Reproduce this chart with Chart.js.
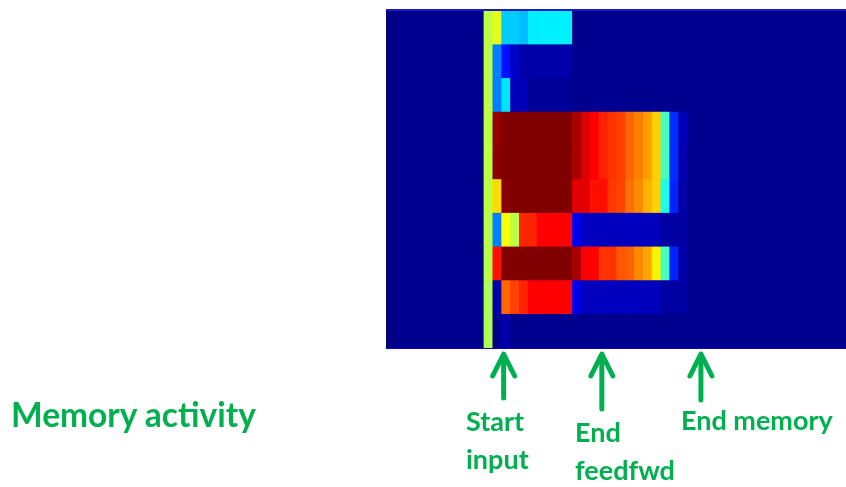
<!DOCTYPE html>
<html>
<head>
<meta charset="utf-8">
<script src="https://cdn.jsdelivr.net/npm/chart.js@4"></script>
<style>
  html,body{margin:0;padding:0;background:#fff;}
  #wrap{position:relative;width:846px;height:487px;overflow:hidden;}
  canvas{position:absolute;left:0;top:0;}
  .lbl{position:absolute;font-family:Lato,"Open Sans",sans-serif;font-weight:700;color:#00B050;white-space:nowrap;line-height:1;}
</style>
</head>
<body>
<div id="wrap">
  <canvas id="c" width="846" height="487"></canvas>
  <div class="lbl" style="left:11px;top:398px;font-size:33.5px;">Memory activity</div>
  <div class="lbl" style="left:466px;top:407px;font-size:27px;">Start</div>
  <div class="lbl" style="left:466px;top:445px;font-size:27px;">input</div>
  <div class="lbl" style="left:575px;top:418px;font-size:27px;">End</div>
  <div class="lbl" style="left:575px;top:456px;font-size:27px;">feedfwd</div>
  <div class="lbl" style="left:681px;top:406px;font-size:27px;">End memory</div>
</div>
<script>
// time steps (columns)
const timeSteps = [0,1,2,3,4,5,6,7,8,9,10,11,12,13,14,15,16,17,18,19,20,21,22,23,24,25,26,27,28,29,30,31,32,33,34,35,36,37,38,39,40,41,42,43,44,45,46,47,48,49,50,51];
// memory cells (rows, top to bottom)
const memoryCells = ['1','2','3','4','5','6','7','8','9','10'];
// activity per cell (0..1)
const cell1 = [0,.015,.015,.015,.015,.015,.015,.015,.015,.015,.015,.56,.6,.325,.325,.31,.36,.36,.36,.36,.36,.015,.015,.015,.015,.015,.015,.015,.015,.015,.015,.015,.015,.015,.015,.015,.015,.015,.015,.015,.015,.015,.015,.015,.015,.015,.015,.015,.015,.015,.015,.015];
const cell2 = [0,.015,.015,.015,.015,.015,.015,.015,.015,.015,.015,.56,.25,.14,.075,.04,.04,.04,.04,.04,.04,.015,.015,.015,.015,.015,.015,.015,.015,.015,.015,.015,.015,.015,.015,.015,.015,.015,.015,.015,.015,.015,.015,.015,.015,.015,.015,.015,.015,.015,.015,.015];
const cell3 = [0,.015,.015,.015,.015,.015,.015,.015,.015,.015,.015,.56,.25,.35,.055,.055,.025,.025,.025,.025,.025,.015,.015,.015,.015,.015,.015,.015,.015,.015,.015,.015,.015,.015,.015,.015,.015,.015,.015,.015,.015,.015,.015,.015,.015,.015,.015,.015,.015,.015,.015,.015];
const cell4 = [0,.015,.015,.015,.015,.015,.015,.015,.015,.015,.015,.56,.98,1,1,1,1,1,1,1,1,.958,.908,.875,.844,.825,.81,.775,.75,.72,.67,.445,.17,.058,.015,.015,.015,.015,.015,.015,.015,.015,.015,.015,.015,.015,.015,.015,.015,.015,.015,.015];
const cell5 = [0,.015,.015,.015,.015,.015,.015,.015,.015,.015,.015,.56,.99,1,1,1,1,1,1,1,1,.958,.908,.875,.844,.825,.81,.775,.75,.72,.67,.445,.17,.05,.015,.015,.015,.015,.015,.015,.015,.015,.015,.015,.015,.015,.015,.015,.015,.015,.015,.015];
const cell6 = [0,.015,.015,.015,.015,.015,.015,.015,.015,.015,.015,.56,.66,.99,1,1,1,1,1,1,1,.9,.9,.86,.86,.82,.81,.765,.74,.7,.67,.4,.16,.035,.015,.015,.015,.015,.015,.015,.015,.015,.015,.015,.015,.015,.015,.015,.015,.015,.015,.015];
const cell7 = [0,.015,.015,.015,.015,.015,.015,.015,.015,.015,.015,.555,.25,.62,.56,.84,.84,.875,.875,.875,.875,.108,.06,.06,.06,.06,.06,.06,.06,.06,.06,.035,.035,.035,.015,.015,.015,.015,.015,.015,.015,.015,.015,.015,.015,.015,.015,.015,.015,.015,.015,.015];
const cell8 = [0,.015,.015,.015,.015,.015,.015,.015,.015,.015,.015,.555,.86,1,1,1,1,1,1,1,1,.958,.875,.875,.825,.825,.79,.78,.74,.715,.64,.445,.16,.04,.015,.015,.015,.015,.015,.015,.015,.015,.015,.015,.015,.015,.015,.015,.015,.015,.015,.015];
const cell9 = [0,.015,.015,.015,.015,.015,.015,.015,.015,.015,.015,.545,.04,.775,.81,.84,.875,.875,.875,.875,.875,.105,.06,.06,.06,.06,.06,.06,.06,.06,.06,.035,.035,.035,.015,.015,.015,.015,.015,.015,.015,.015,.015,.015,.015,.015,.015,.015,.015,.015,.015,.015];
const cell10 = [0,.015,.015,.015,.015,.015,.015,.015,.015,.015,.015,.545,.015,.045,.015,.015,.015,.015,.015,.015,.015,.015,.015,.015,.015,.015,.015,.015,.015,.015,.015,.015,.015,.015,.015,.015,.015,.015,.015,.015,.015,.015,.015,.015,.015,.015,.015,.015,.015,.015,.015,.015];
// marker positions (time step where each arrow points)
const markerSteps = [13.3, 24.4, 35.6];
const markerLen = [44, 55, 46];

const activity = [cell1,cell2,cell3,cell4,cell5,cell6,cell7,cell8,cell9,cell10];

function jet(v){
  const cl = x => Math.max(0, Math.min(1, x));
  const r = cl(1.5 - Math.abs(4*v - 3));
  const g = cl(1.5 - Math.abs(4*v - 2));
  const b = cl(1.5 - Math.abs(4*v - 1));
  return 'rgb(' + Math.round(r*255) + ',' + Math.round(g*255) + ',' + Math.round(b*255) + ')';
}

const datasets = timeSteps.map((t, c) => ({
  label: 't' + t,
  data: memoryCells.map(() => [t, t + 1]),
  backgroundColor: memoryCells.map((_, r) => jet(activity[r][c])),
  borderWidth: 0,
  barPercentage: 1,
  categoryPercentage: 1,
  grouped: false
}));

const decor = {
  id: 'decor',
  beforeDatasetsDraw(chart){
    const {ctx, chartArea:a} = chart;
    ctx.save();
    ctx.fillStyle = jet(0.015);
    ctx.fillRect(a.left, a.top, a.right - a.left, a.bottom - a.top);
    ctx.restore();
  },
  afterDraw(chart){
    const {ctx, chartArea:a, scales} = chart;
    ctx.save();
    ctx.fillStyle = '#1a1ac8';
    ctx.fillRect(a.left, a.top - 2, a.right - a.left, 2);
    ctx.fillStyle = '#0a0ad8';
    ctx.fillRect(a.left, a.bottom, a.right - a.left, 1);
    ctx.strokeStyle = '#00B050';
    ctx.lineWidth = 5;
    ctx.lineCap = 'round';
    ctx.lineJoin = 'round';
    markerSteps.forEach((s, i) => {
      const x = scales.x.getPixelForValue(s);
      const tip = a.bottom + 6;
      ctx.beginPath();
      ctx.moveTo(x, tip + 2);
      ctx.lineTo(x, tip + markerLen[i]);
      ctx.stroke();
      ctx.beginPath();
      ctx.moveTo(x - 11, tip + 22);
      ctx.lineTo(x, tip);
      ctx.lineTo(x + 11, tip + 22);
      ctx.stroke();
    });
    ctx.restore();
  }
};

new Chart(document.getElementById('c'), {
  type: 'bar',
  data: { labels: memoryCells, datasets },
  options: {
    indexAxis: 'y',
    responsive: false,
    animation: false,
    events: [],
    layout: { padding: { left: 386, top: 11, right: 0, bottom: 139 } },
    scales: {
      x: { type: 'linear', min: 0, max: 52, display: false },
      y: { display: false }
    },
    plugins: { legend: { display: false }, tooltip: { enabled: false } }
  },
  plugins: [decor]
});
</script>
</body>
</html>
